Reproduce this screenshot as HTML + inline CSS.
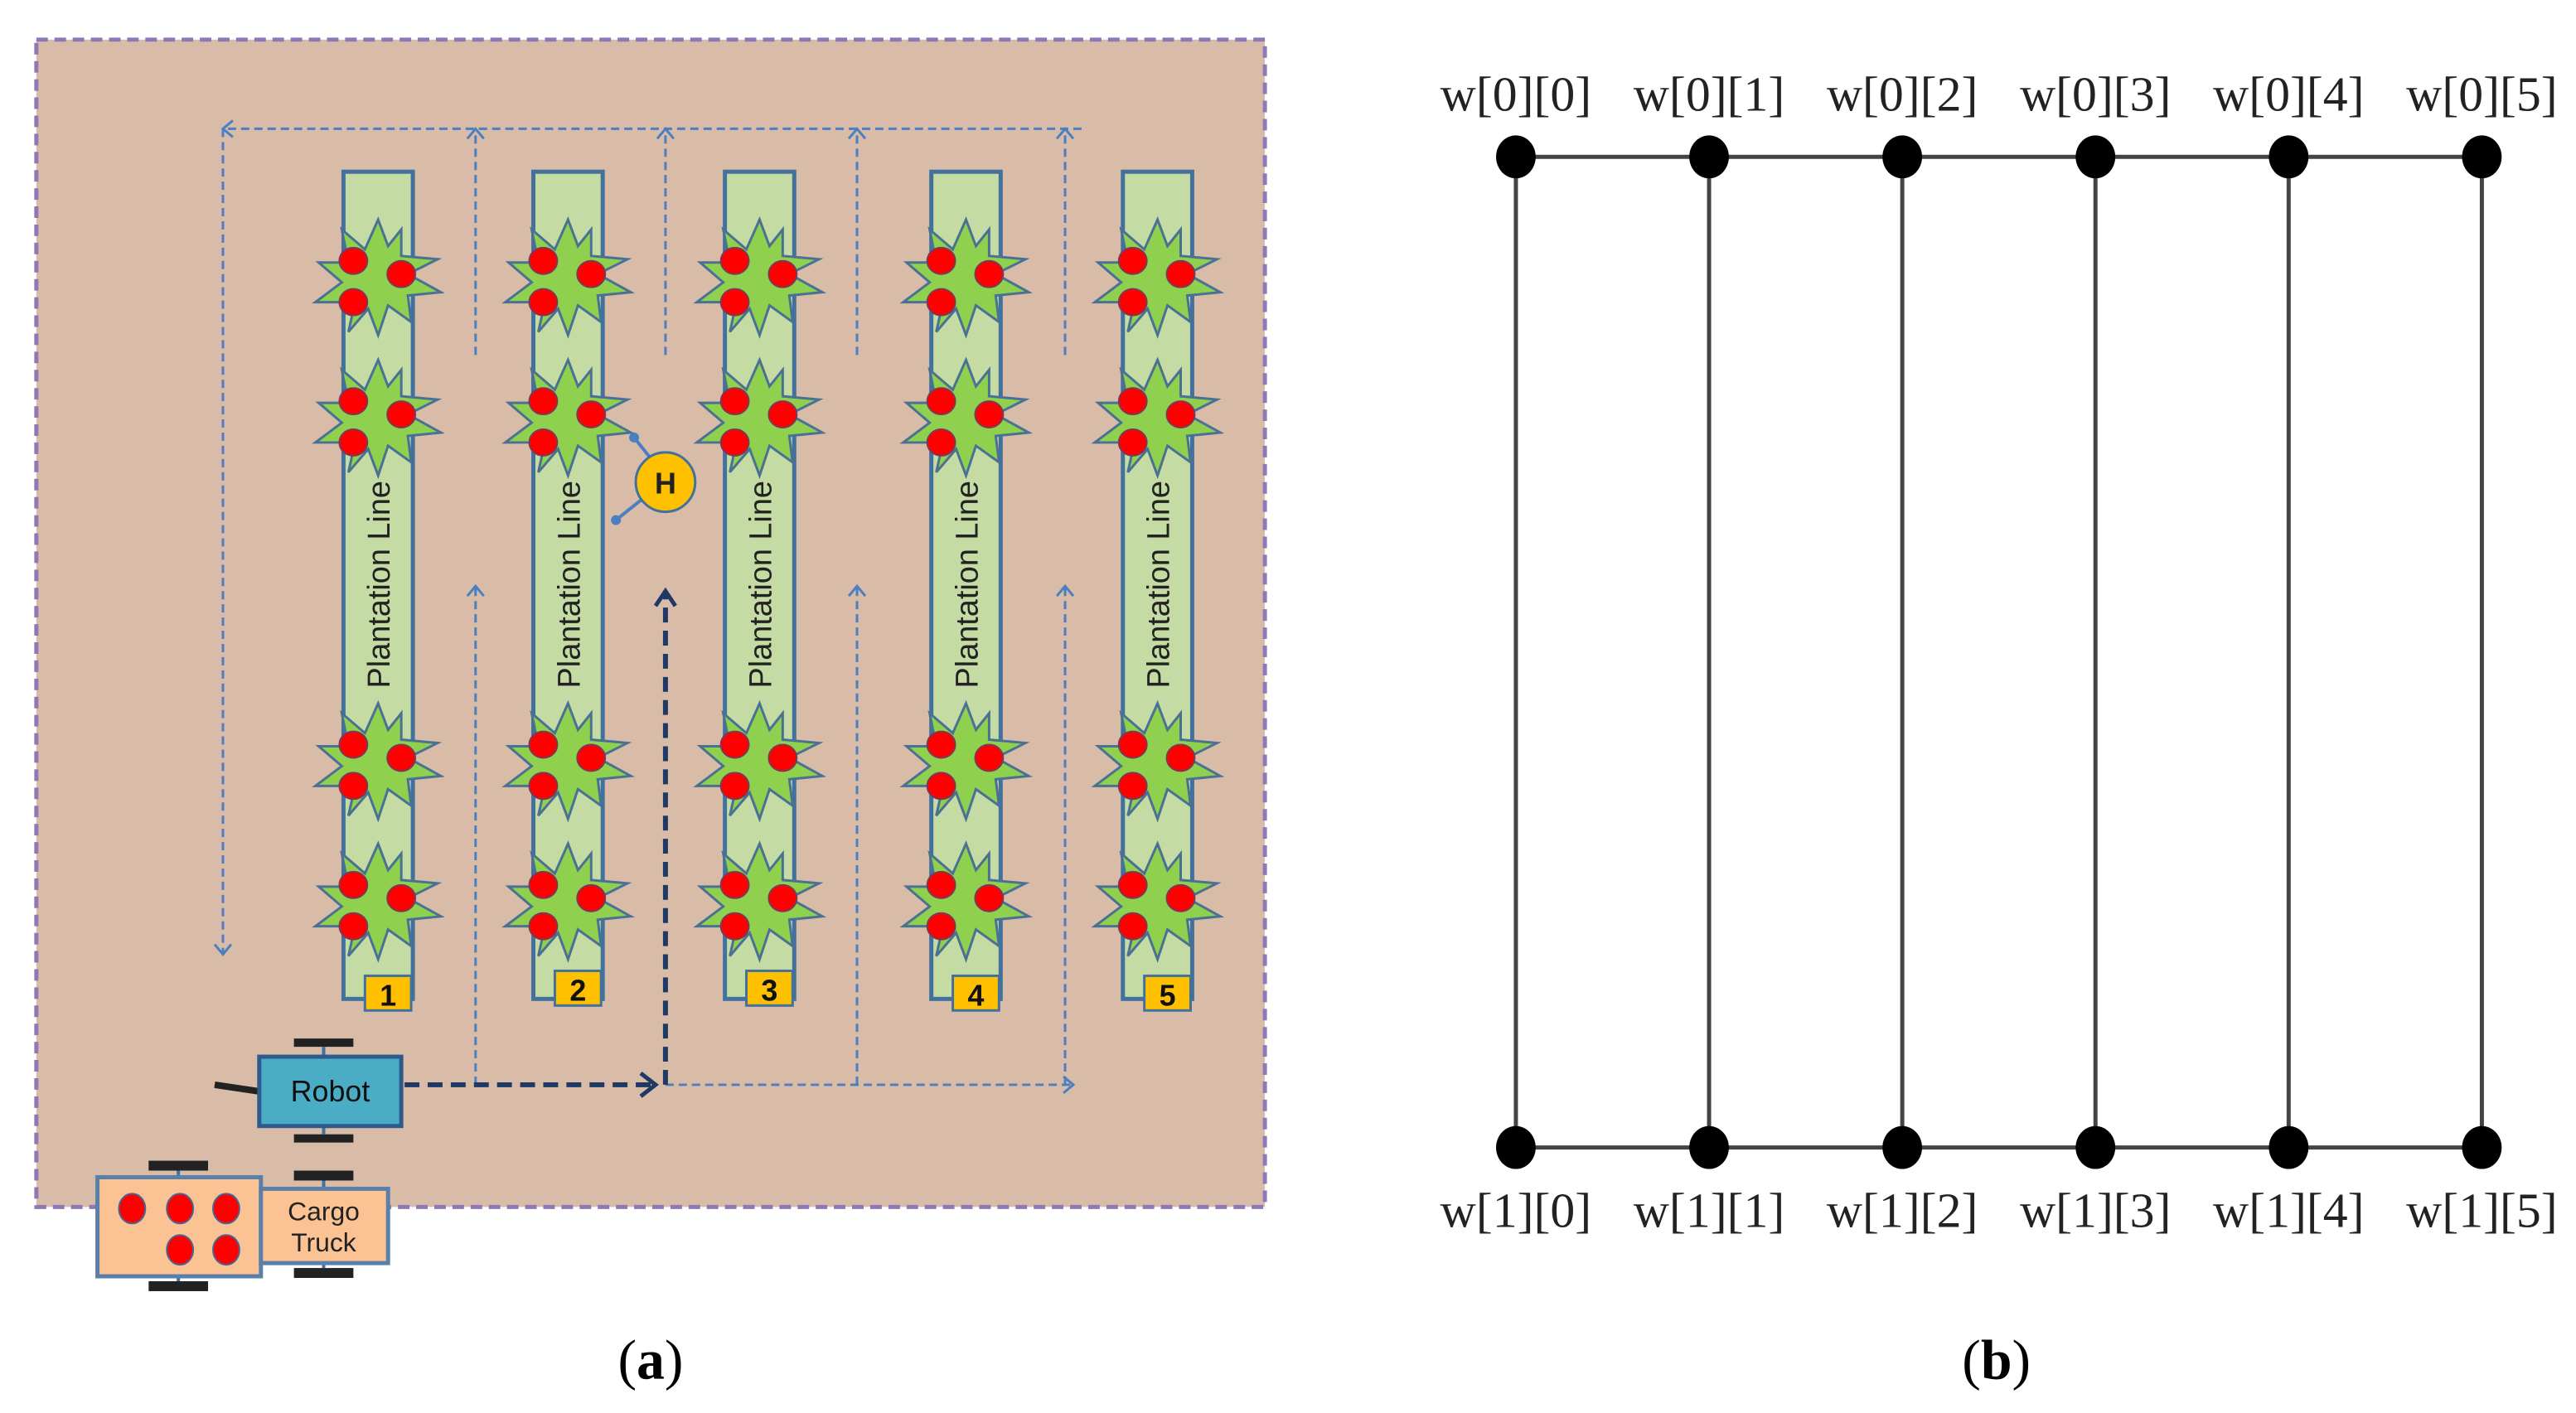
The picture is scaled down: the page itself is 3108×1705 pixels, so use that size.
<!DOCTYPE html>
<html><head><meta charset="utf-8"><style>
html,body{margin:0;padding:0;background:#fff;}
svg{display:block;}
</style></head><body>
<svg width="3108" height="1705" viewBox="0 0 1560 855.8" xmlns="http://www.w3.org/2000/svg">
<defs>
<g id="plant">
<polygon points="0,-36 6,-20 14,-30 14,-14 36,-12 18,-3 38,8 18,10 20,26 6,16 0,34 -6,18 -18,32 -14,14 -38,14 -22,2 -36,-10 -18,-10 -22,-30 -8,-18" fill="#8fd14f" stroke="#4a7194" stroke-width="1.5"/>
<ellipse cx="-15" cy="-11" rx="8.5" ry="8" fill="#f00" stroke="#7a3a55" stroke-width="1"/>
<ellipse cx="14" cy="-3" rx="8.5" ry="8" fill="#f00" stroke="#7a3a55" stroke-width="1"/>
<ellipse cx="-15" cy="14" rx="8.5" ry="8" fill="#f00" stroke="#7a3a55" stroke-width="1"/>
</g>
<g id="strip">
<rect x="0" y="0" width="42" height="501" fill="#c5dba4" stroke="#41719c" stroke-width="2.5"/>
<use href="#plant" x="21" y="65"/>
<use href="#plant" x="21" y="150"/>
<use href="#plant" x="21" y="358"/>
<use href="#plant" x="21" y="443"/>
<text transform="translate(28,250) rotate(-90)" text-anchor="middle" font-family="Liberation Sans, sans-serif" font-size="19" fill="#222">Plantation Line</text>
</g>
</defs>
<rect x="22" y="24" width="744" height="707" fill="#d9bca7" stroke="#8f78b8" stroke-width="2.5" stroke-dasharray="7,4"/>
<g stroke="#4a7fc1" stroke-width="1.5" fill="none" stroke-dasharray="5,3">
<path d="M655,78 H135 V578"/>
<path d="M288,215 V78 M403,215 V78 M519,215 V78 M645,215 V78"/>
<path d="M288,657 V355 M519,657 V355 M645,657 V355"/>
<path d="M403,657 H650"/>
</g>
<g stroke="#4a7fc1" stroke-width="1.5" fill="none">
<path d="M141,73 L135,78 L141,83"/>
<path d="M130,572 L135,578 L140,572"/>
<path d="M283,84 L288,78 L293,84 M398,84 L403,78 L408,84 M514,84 L519,78 L524,84 M640,84 L645,78 L650,84"/>
<path d="M283,361 L288,355 L293,361 M514,361 L519,355 L524,361 M640,361 L645,355 L650,361"/>
<path d="M644,652 L650,657 L644,662"/>
</g>
<g stroke="#1f3864" stroke-width="3" fill="none">
<path d="M245,657 H398 M403,657 V360" stroke-dasharray="9,5"/>
<path d="M388,650 L397,657 L388,664" stroke-width="2.5"/>
<path d="M397,367 L403,358 L409,367" stroke-width="2.5"/>
</g>
<use href="#strip" x="208" y="104"/>
<use href="#strip" x="323" y="104"/>
<use href="#strip" x="439" y="104"/>
<use href="#strip" x="564" y="104"/>
<use href="#strip" x="680" y="104"/>
<g font-family="Liberation Sans, sans-serif" font-size="18" font-weight="bold" text-anchor="middle" fill="#111">
<rect x="221" y="591" width="28" height="21" fill="#ffc000" stroke="#41719c" stroke-width="1.5"/><text x="235" y="609">1</text>
<rect x="336" y="588" width="28" height="21" fill="#ffc000" stroke="#41719c" stroke-width="1.5"/><text x="350" y="606">2</text>
<rect x="452" y="588" width="28" height="21" fill="#ffc000" stroke="#41719c" stroke-width="1.5"/><text x="466" y="606">3</text>
<rect x="577" y="591" width="28" height="21" fill="#ffc000" stroke="#41719c" stroke-width="1.5"/><text x="591" y="609">4</text>
<rect x="693" y="591" width="28" height="21" fill="#ffc000" stroke="#41719c" stroke-width="1.5"/><text x="707" y="609">5</text>
</g>
<path d="M384,265 L396,280 M388,303 L373,315" stroke="#4a7fc1" stroke-width="2"/>
<circle cx="384" cy="265" r="3" fill="#4a7fc1"/><circle cx="373" cy="315" r="3" fill="#4a7fc1"/>
<circle cx="403" cy="292" r="18" fill="#ffc000" stroke="#41719c" stroke-width="1.5"/>
<text x="403" y="299" text-anchor="middle" font-family="Liberation Sans, sans-serif" font-size="18" font-weight="bold" fill="#222">H</text>
<g>
<rect x="178" y="629" width="36" height="5" fill="#222"/><rect x="178" y="687" width="36" height="5" fill="#222"/>
<path d="M196,634 V640 M196,682 V687" stroke="#41719c" stroke-width="2"/>
<path d="M130,657 L157,661" stroke="#222" stroke-width="4"/>
<rect x="157" y="640" width="86" height="42" fill="#4bacc6" stroke="#2e5a8c" stroke-width="2.5"/>
<text x="200" y="667" text-anchor="middle" font-family="Liberation Sans, sans-serif" font-size="18" fill="#111">Robot</text>
</g>
<g>
<rect x="90" y="703" width="36" height="6" fill="#222"/><rect x="90" y="776" width="36" height="6" fill="#222"/>
<rect x="178" y="709" width="36" height="6" fill="#222"/><rect x="178" y="768" width="36" height="6" fill="#222"/>
<path d="M108,709 V713 M108,772 V776 M196,715 V720 M196,764 V768" stroke="#41719c" stroke-width="2"/>
<rect x="59" y="713" width="99" height="60" fill="#fbc393" stroke="#5a7fa8" stroke-width="2.5"/>
<rect x="158" y="720" width="77" height="45" fill="#fbc393" stroke="#5a7fa8" stroke-width="2.5"/>
<g fill="#f00" stroke="#4a6494" stroke-width="1">
<ellipse cx="80" cy="732" rx="8" ry="9"/><ellipse cx="109" cy="732" rx="8" ry="9"/><ellipse cx="137" cy="732" rx="8" ry="9"/>
<ellipse cx="109" cy="757" rx="8" ry="9"/><ellipse cx="137" cy="757" rx="8" ry="9"/>
</g>
<text x="196" y="739" text-anchor="middle" font-family="Liberation Sans, sans-serif" font-size="16" fill="#222">Cargo</text>
<text x="196" y="758" text-anchor="middle" font-family="Liberation Sans, sans-serif" font-size="16" fill="#222">Truck</text>
</g>
<g stroke="#444" stroke-width="2.5" fill="none">
<path d="M918,95 H1503 M918,695 H1503"/>
<path d="M918,95 V695 M1035,95 V695 M1152,95 V695 M1269,95 V695 M1386,95 V695 M1503,95 V695"/>
</g>
<g fill="#000">
<ellipse cx="918" cy="95" rx="12" ry="13"/><ellipse cx="1035" cy="95" rx="12" ry="13"/><ellipse cx="1152" cy="95" rx="12" ry="13"/><ellipse cx="1269" cy="95" rx="12" ry="13"/><ellipse cx="1386" cy="95" rx="12" ry="13"/><ellipse cx="1503" cy="95" rx="12" ry="13"/>
<ellipse cx="918" cy="695" rx="12" ry="13"/><ellipse cx="1035" cy="695" rx="12" ry="13"/><ellipse cx="1152" cy="695" rx="12" ry="13"/><ellipse cx="1269" cy="695" rx="12" ry="13"/><ellipse cx="1386" cy="695" rx="12" ry="13"/><ellipse cx="1503" cy="695" rx="12" ry="13"/>
</g>
<g font-family="Liberation Serif, serif" font-size="30" text-anchor="middle" fill="#222">
<text x="918" y="67">w[0][0]</text><text x="1035" y="67">w[0][1]</text><text x="1152" y="67">w[0][2]</text><text x="1269" y="67">w[0][3]</text><text x="1386" y="67">w[0][4]</text><text x="1503" y="67">w[0][5]</text>
<text x="918" y="743">w[1][0]</text><text x="1035" y="743">w[1][1]</text><text x="1152" y="743">w[1][2]</text><text x="1269" y="743">w[1][3]</text><text x="1386" y="743">w[1][4]</text><text x="1503" y="743">w[1][5]</text>
</g>
<g font-family="Liberation Serif, serif" font-size="34" text-anchor="middle" fill="#000">
<text x="394" y="835">(<tspan font-weight="bold">a</tspan>)</text>
<text x="1209" y="835">(<tspan font-weight="bold">b</tspan>)</text>
</g>
</svg>
</body></html>
